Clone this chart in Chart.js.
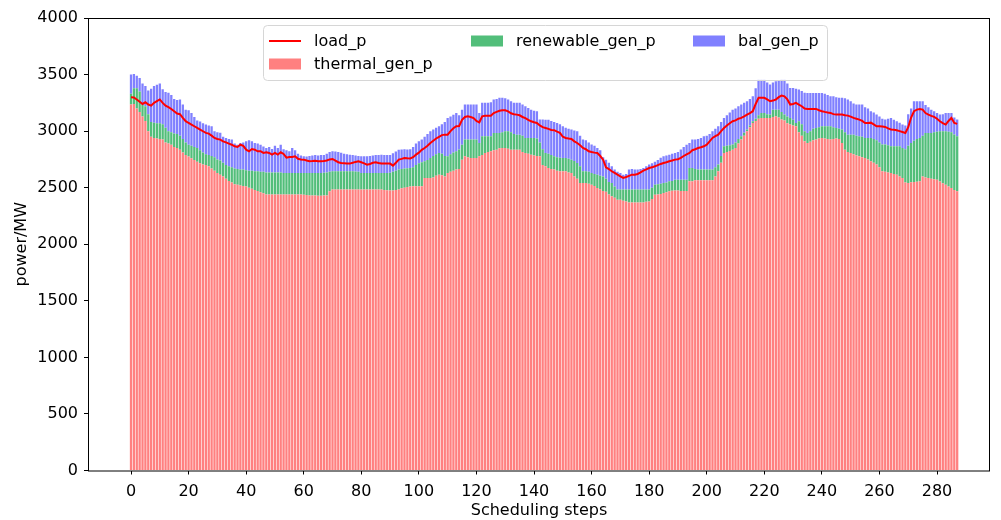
<!DOCTYPE html>
<html>
<head>
<meta charset="utf-8">
<script src="https://cdn.jsdelivr.net/npm/chart.js@4.4.0/dist/chart.umd.min.js"></script>
<style>
  html, body { margin: 0; padding: 0; background: #fff; }
</style>
</head>
<body>
<canvas id="chart" width="1001" height="520"></canvas>
<script>
// ========================================
// Power balance per scheduling step
// ========================================

const thermal = [
  3235, 3240, 3200, 3170, 3130, 3090, 3000, 2950, 2940, 2935,
  2930, 2925, 2900, 2890, 2880, 2860, 2850, 2835, 2810, 2790,
  2775, 2760, 2745, 2730, 2715, 2705, 2700, 2690, 2670, 2650,
  2630, 2615, 2600, 2580, 2560, 2545, 2530, 2525, 2520, 2515,
  2510, 2500, 2490, 2480, 2470, 2460, 2450, 2440, 2440, 2440,
  2440, 2440, 2440, 2440, 2440, 2440, 2440, 2440, 2440, 2440,
  2438, 2435, 2432, 2430, 2430, 2429, 2429, 2430, 2430, 2468,
  2483, 2483, 2483, 2483, 2483, 2483, 2483, 2483, 2483, 2483,
  2483, 2483, 2483, 2483, 2483, 2483, 2483, 2483, 2480, 2478,
  2476, 2476, 2480, 2485, 2495, 2500, 2505, 2510, 2512, 2512,
  2512, 2512, 2586, 2586, 2586, 2590, 2605, 2615, 2610, 2600,
  2630, 2640, 2650, 2660, 2665, 2748, 2778, 2770, 2763, 2763,
  2763, 2778, 2790, 2807, 2815, 2822, 2830, 2836, 2848, 2851,
  2851, 2845, 2836, 2836, 2836, 2836, 2815, 2807, 2800, 2792,
  2785, 2780, 2778, 2700, 2689, 2675, 2665, 2660, 2650, 2645,
  2645, 2645, 2635, 2630, 2600, 2580, 2541, 2541, 2541, 2535,
  2527, 2515, 2497, 2485, 2470, 2465, 2440, 2424, 2410, 2394,
  2394, 2385, 2379, 2370, 2370, 2370, 2370, 2370, 2370, 2375,
  2379, 2400, 2438, 2440, 2445, 2453, 2460, 2468, 2472, 2476,
  2476, 2470, 2470, 2470, 2556, 2556, 2565, 2565, 2565, 2565,
  2565, 2565, 2565, 2600, 2645, 2720, 2807, 2815, 2825, 2836,
  2850, 2890, 2925, 2960, 2999, 3035, 3072, 3090, 3110, 3117,
  3117, 3117, 3117, 3125, 3131, 3120, 3102, 3095, 3070, 3058,
  3050, 3043, 2990, 2960, 2910, 2895, 2905, 2920, 2925, 2935,
  2940, 2935, 2930, 2925, 2930, 2935, 2930, 2895, 2836, 2815,
  2807, 2795, 2785, 2778, 2770, 2763, 2750, 2733, 2720, 2704,
  2680, 2645, 2640, 2635, 2630, 2620, 2615, 2600, 2586, 2545,
  2541, 2547, 2550, 2553, 2556, 2600, 2590, 2586, 2580, 2575,
  2571, 2555, 2540, 2527, 2510, 2497, 2480, 2468
];

const renewable = [
  95, 140, 180, 180, 100, 130, 150, 130, 135, 135,
  140, 135, 130, 110, 110, 120, 125, 125, 120, 110,
  105, 110, 115, 120, 115, 105, 95, 100, 110, 120,
  120, 125, 120, 120, 130, 135, 140, 140, 140, 145,
  145, 150, 160, 165, 175, 180, 190, 195, 195, 195,
  195, 195, 195, 190, 190, 190, 190, 190, 190, 190,
  192, 195, 198, 200, 200, 201, 201, 202, 205, 172,
  162, 162, 162, 162, 162, 162, 162, 162, 159, 157,
  147, 147, 147, 147, 147, 147, 147, 147, 150, 152,
  156, 164, 170, 175, 170, 170, 167, 164, 168, 188,
  203, 213, 147, 159, 177, 190, 190, 192, 190, 180,
  148, 155, 160, 162, 172, 132, 147, 155, 162, 162,
  162, 117, 165, 148, 140, 133, 154, 148, 136, 139,
  148, 154, 154, 139, 133, 133, 145, 133, 140, 148,
  155, 155, 122, 140, 118, 125, 125, 118, 120, 120,
  118, 118, 120, 118, 135, 138, 149, 104, 104, 105,
  103, 105, 118, 120, 130, 115, 110, 117, 100, 89,
  89, 98, 104, 113, 113, 113, 113, 113, 113, 108,
  104, 100, 89, 90, 90, 88, 85, 88, 88, 95,
  95, 101, 101, 101, 118, 118, 100, 95, 95, 95,
  95, 95, 95, 80, 59, 60, 59, 55, 50, 45,
  50, 40, 30, 25, 15, 15, 15, 20, 30, 44,
  44, 33, 29, 65, 59, 70, 68, 51, 60, 59,
  50, 29, 97, 100, 90, 89, 95, 100, 103, 100,
  103, 108, 113, 118, 105, 93, 90, 119, 154, 154,
  162, 174, 175, 177, 180, 177, 190, 207, 210, 216,
  220, 236, 241, 240, 236, 246, 251, 266, 264, 295,
  329, 348, 365, 377, 384, 360, 394, 398, 404, 415,
  424, 444, 459, 472, 485, 493, 490, 487
];

const bal = [
  170, 125, 110, 120, 190, 180, 210, 295, 325, 340,
  350, 310, 315, 340, 330, 305, 300, 320, 305, 290,
  305, 290, 265, 245, 255, 260, 263, 260, 263, 230,
  240, 245, 230, 240, 240, 245, 220, 215, 235, 240,
  255, 270, 260, 250, 245, 240, 225, 215, 225, 207,
  235, 215, 245, 210, 200, 192, 220, 200, 170, 155,
  148, 145, 150, 155, 160, 155, 160, 158, 165, 175,
  177, 175, 170, 163, 155, 150, 147, 145, 143, 140,
  148, 148, 148, 150, 155, 160, 160, 162, 160, 158,
  158, 165, 170, 175, 172, 170, 166, 166, 180, 190,
  195, 200, 217, 230, 236, 235, 235, 236, 260, 300,
  339, 335, 335, 339, 303, 310, 310, 310, 310, 310,
  310, 266, 295, 295, 295, 300, 295, 301, 310, 304,
  291, 281, 274, 275, 281, 281, 275, 280, 265, 250,
  240, 241, 202, 262, 293, 300, 300, 302, 302, 295,
  280, 267, 265, 266, 270, 281, 270, 280, 275, 260,
  251, 250, 236, 225, 170, 168, 170, 148, 150, 157,
  147, 132, 137, 177, 182, 177, 177, 182, 191, 207,
  221, 215, 203, 215, 230, 237, 240, 236, 240, 236,
  244, 266, 289, 309, 221, 251, 260, 270, 280, 295,
  300, 315, 339, 340, 339, 300, 251, 270, 290, 309,
  300, 290, 280, 265, 250, 235, 221, 270, 316, 295,
  295, 280, 266, 240, 251, 260, 286, 310, 290, 265,
  282, 303, 281, 295, 340, 354, 338, 318, 310, 303,
  295, 287, 277, 265, 273, 272, 274, 280, 300, 310,
  295, 276, 275, 280, 285, 270, 260, 236, 235, 226,
  230, 229, 221, 235, 251, 234, 221, 209, 208, 210,
  280, 305, 349, 334, 324, 304, 246, 226, 206, 186,
  165, 147, 151, 162, 166, 171, 150, 147
];

const load = [
  3300, 3298, 3280, 3260, 3240, 3255, 3235, 3225, 3250, 3265,
  3280, 3250, 3225, 3212, 3196, 3175, 3155, 3150, 3118, 3088,
  3072, 3058, 3043, 3028, 3014, 2999, 2984, 2978, 2960, 2940,
  2931, 2925, 2910, 2900, 2890, 2880, 2866, 2860, 2880, 2870,
  2836, 2822, 2842, 2836, 2822, 2822, 2807, 2813, 2807, 2792,
  2807, 2792, 2813, 2798, 2765, 2772, 2772, 2778, 2755, 2750,
  2748, 2740, 2733, 2735, 2738, 2733, 2733, 2735, 2740, 2750,
  2754, 2740, 2725, 2718, 2716, 2713, 2713, 2720, 2728, 2733,
  2725, 2715, 2704, 2710, 2720, 2724, 2718, 2713, 2713, 2713,
  2713, 2695, 2720, 2748, 2755, 2763, 2760, 2758, 2770, 2792,
  2810, 2835, 2851, 2870, 2895, 2915, 2935, 2950, 2965, 2969,
  2969, 3000, 3025, 3043, 3045, 3100, 3125, 3131, 3125, 3115,
  3090, 3078, 3131, 3135, 3137, 3137, 3160, 3170, 3180, 3185,
  3185, 3175, 3158, 3150, 3146, 3140, 3125, 3115, 3100, 3087,
  3078, 3072, 3050, 3035, 3028, 3020, 3010, 3008, 2995, 2985,
  2950, 2940, 2935, 2931, 2910, 2895, 2875, 2851, 2840, 2822,
  2815, 2810, 2807, 2780, 2748, 2680, 2665, 2645, 2630, 2615,
  2600, 2586, 2595, 2605, 2615, 2615, 2621, 2635, 2651, 2662,
  2674, 2680, 2689, 2700, 2710, 2718, 2725, 2733, 2740, 2748,
  2752, 2763, 2780, 2795, 2807, 2831, 2840, 2851, 2858, 2866,
  2880, 2910, 2940, 2955, 2969, 3000, 3028, 3050, 3070, 3087,
  3095, 3110, 3117, 3130, 3146, 3160, 3176, 3240, 3294, 3294,
  3294, 3280, 3264, 3270, 3279, 3300, 3314, 3308, 3280, 3235,
  3240, 3250, 3235, 3220, 3200, 3196, 3196, 3196, 3196, 3185,
  3176, 3170, 3165, 3161, 3150, 3146, 3148, 3146, 3140, 3137,
  3128, 3117, 3110, 3102, 3090, 3072, 3072, 3075, 3060, 3043,
  3043, 3040, 3037, 3025, 3014, 3012, 3008, 3000, 2992, 2984,
  3035, 3120, 3176, 3190, 3196, 3190, 3160, 3146, 3135, 3126,
  3110, 3087, 3070, 3058, 3090, 3117, 3072, 3064
];

const xTicks = [0, 20, 40, 60, 80, 100, 120, 140, 160, 180, 200, 220, 240, 260, 280];
const steps = thermal.map((_, i) => i);

Chart.defaults.font.family = '"DejaVu Sans", sans-serif';
Chart.defaults.font.size = 16;
Chart.defaults.color = '#000';

// Box around the plot (matplotlib spines)
const framePlugin = {
  id: 'frame',
  afterDraw(chart) {
    const { ctx, chartArea: a } = chart;
    ctx.save();
    ctx.strokeStyle = '#000';
    ctx.lineWidth = 1;
    ctx.strokeRect(a.left + 0.5, a.top + 0.5, a.right - a.left - 1, a.bottom - a.top);
    ctx.restore();
  }
};

// Legend drawn like matplotlib's ncol=3 legend
const legendPlugin = {
  id: 'mplLegend',
  afterDraw(chart) {
    const ctx = chart.ctx;
    const ds = chart.data.datasets;
    ctx.save();
    ctx.beginPath();
    ctx.roundRect(263.5, 25.5, 564, 55, 4);
    ctx.fillStyle = 'rgba(255,255,255,0.8)';
    ctx.fill();
    ctx.strokeStyle = '#d6d6d6';
    ctx.lineWidth = 1;
    ctx.stroke();

    const items = [
      { d: ds[0], x: 269, y: 41 },
      { d: ds[1], x: 269, y: 64 },
      { d: ds[2], x: 471, y: 41 },
      { d: ds[3], x: 693, y: 41 }
    ];
    ctx.font = '16px "DejaVu Sans", sans-serif';
    ctx.textBaseline = 'middle';
    items.forEach(it => {
      if (it.d.type === 'line') {
        ctx.strokeStyle = it.d.borderColor;
        ctx.lineWidth = 2;
        ctx.beginPath();
        ctx.moveTo(it.x, it.y);
        ctx.lineTo(it.x + 32, it.y);
        ctx.stroke();
      } else {
        ctx.fillStyle = it.d.backgroundColor;
        ctx.fillRect(it.x, it.y - 5.5, 32, 11);
      }
      ctx.fillStyle = '#000';
      ctx.fillText(it.d.label, it.x + 45, it.y + 1);
    });
    ctx.restore();
  }
};

new Chart(document.getElementById('chart'), {
  type: 'bar',
  data: {
    labels: steps,
    datasets: [
      {
        type: 'line',
        label: 'load_p',
        data: load,
        borderColor: '#ff0000',
        borderWidth: 2,
        pointRadius: 0,
        tension: 0,
        stack: 'load',
        order: 0
      },
      { label: 'thermal_gen_p', data: thermal, backgroundColor: '#ff8080', order: 1 },
      { label: 'renewable_gen_p', data: renewable, backgroundColor: '#52be7a', order: 1 },
      { label: 'bal_gen_p', data: bal, backgroundColor: '#8080ff', order: 1 }
    ]
  },
  options: {
    responsive: false,
    animation: false,
    barPercentage: 0.8,
    categoryPercentage: 1.0,
    layout: { padding: { left: 0, right: 11, top: 18, bottom: 0 } },
    plugins: { legend: { display: false }, tooltip: { enabled: false } },
    scales: {
      x: {
        type: 'linear',
        stacked: true,
        offset: false,
        min: -14.94,
        max: 298.4,
        border: { display: false },
        grid: { display: true, offset: false, drawOnChartArea: false, drawTicks: true, tickLength: 4, color: '#000' },
        ticks: { padding: 8, maxRotation: 0, callback: v => String(v) },
        afterBuildTicks: scale => { scale.ticks = xTicks.map(v => ({ value: v })); },
        afterFit: scale => { scale.height = 49.5; },
        title: { display: true, text: 'Scheduling steps', padding: { top: 0, bottom: 0 } }
      },
      y: {
        stacked: true,
        min: 0,
        max: 4000,
        border: { display: false },
        grid: { display: true, drawOnChartArea: false, drawTicks: true, tickLength: 4, color: '#000' },
        ticks: { stepSize: 500, padding: 6, callback: v => String(v) },
        afterFit: scale => { scale.width = 88; },
        title: { display: true, text: 'power/MW', padding: { top: 12, bottom: 0 } }
      }
    }
  },
  plugins: [framePlugin, legendPlugin]
});
</script>
</body>
</html>
